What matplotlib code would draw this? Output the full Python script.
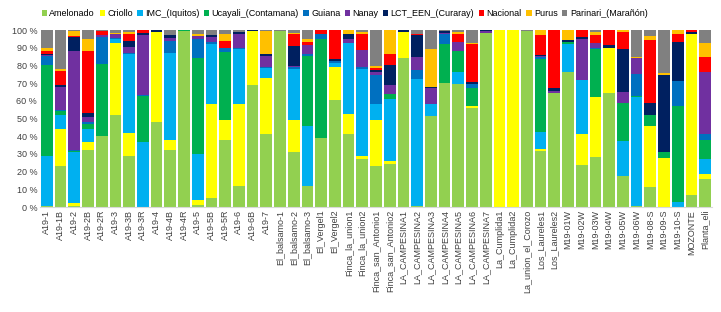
import matplotlib.pyplot as plt
import numpy as np

plt.rcParams['font.family'] = ['Liberation Sans', 'DejaVu Sans']

samples = ['A19-1', 'A19-1B', 'A19-2', 'A19-2B', 'A19-2R', 'A19-3', 'A19-3B', 'A19-3R',
           'A19-4', 'A19-4B', 'A19-4R', 'A19-5', 'A19-5B', 'A19-5R', 'A19-6', 'A19-6B',
           'A19-7', 'El_balsamo-1', 'El_balsamo-2', 'El_balsamo-3', 'El_Vergel1', 'El_Vergel2',
           'Finca_la_union1', 'Finca_la_union2', 'Finca_san_Antonio1', 'Finca_san_Antonio2',
           'LA_CAMPESINA1', 'LA_CAMPESINA2', 'LA_CAMPESINA3', 'LA_CAMPESINA4', 'LA_CAMPESINA5',
           'LA_CAMPESINA6', 'LA_CAMPESINA7', 'La_Cumplida1', 'La_Cumplida2', 'La_union_el_Corozo',
           'Los_Laureles1', 'Los_Laureles2', 'M19-01W', 'M19-02W', 'M19-03W', 'M19-04W',
           'M19-05W', 'M19-06W', 'M19-08-S', 'M19-09-S', 'M19-10-S', 'MOZONTE', 'Planta_eli']

groups = ['Amelonado', 'Criollo', 'IMC_(Iquitos)', 'Ucayali_(Contamana)', 'Guiana', 'Nanay',
          'LCT_EEN_(Curaray)', 'Nacional', 'Purus', 'Parinari_(Marañón)']
colors = ['#92D050', '#FFFF00', '#00B0F0', '#00B050', '#0070C0', '#7030A0',
          '#002060', '#FF0000', '#FFC000', '#808080']

# ancestry proportions (%) per sample, columns in the order of "groups"
amelonado = [0.5, 23, 0.5, 32, 40, 52, 29, 0, 48, 32, 99.5, 1, 5, 38, 12, 69, 41, 99.5, 31, 12,
             39, 60.5, 41, 27, 23, 24.5, 84, 0.5, 51.5, 70, 69.5, 56, 98.5, 0, 0, 99.5, 31.5, 64.5,
             76.5, 24, 28.5, 64.5, 17.5, 0.5, 11.5, 0, 0, 7, 16]
criollo = [0, 21, 2, 5, 0, 40.5, 13, 0, 51, 6, 0, 3, 53, 11, 46, 30.5, 32, 0, 18, 0, 0, 18.5,
           11.5, 2, 26, 1.5, 15, 0, 0, 0, 0, 1, 0, 100, 100, 0, 1, 0, 0, 17, 33.5, 25.5, 0, 0,
           34.5, 27.5, 0, 91, 2.5]
imc = [28.5, 8, 28.5, 7, 0, 2.5, 44.5, 37, 0, 49, 0, 26, 34, 0, 31.5, 0, 5.5, 0, 29, 34, 0, 2.5,
       40, 49, 9, 35, 0, 72, 6.5, 0, 7, 0, 0, 0, 0, 0, 10, 0, 15.5, 31, 0, 0, 20, 61.5, 0, 0, 3,
       0, 8.5]
ucayali = [51, 2, 0.5, 3, 41, 0, 0, 26, 0, 0, 0.5, 54, 0, 38.5, 0, 0, 0, 0, 0, 39.5, 56, 0, 0,
           0, 0, 3, 0, 0, 0, 22, 11.5, 10, 0, 0, 0, 0, 41, 0, 1.5, 0, 27.5, 0, 21, 0.5, 6, 3.5,
           54, 0, 11]
guiana = [5.5, 1, 0.5, 1, 15, 0.5, 0.5, 0.5, 0, 7, 0, 11, 1, 2.5, 0.5, 0, 0.5, 0, 1, 1, 2.5, 1,
          0, 1, 16.5, 0, 0, 5, 0, 6, 0, 2.5, 0, 0, 0, 0, 1, 0, 0, 0, 0.5, 0, 0, 12.5, 0, 0, 14,
          0, 3]
nanay = [0.5, 13, 56, 3, 1, 2.5, 3.5, 33.5, 0, 1.5, 0, 1.5, 3, 0, 8, 0, 6.5, 0, 0.5, 5, 0.5, 0,
         2.5, 9.5, 1.5, 5, 0, 7.5, 9.5, 0.5, 5, 0, 1, 0, 0, 0, 1, 1, 0, 23, 2.5, 0, 6.5, 9, 0, 0,
         0, 0, 35]
lct = [0.5, 1, 8, 2, 0, 0, 3.5, 1.5, 1, 1.5, 0, 0, 1, 0, 1, 0.5, 1, 0, 11.5, 0, 0, 1, 2.5, 0,
       1.5, 11, 1, 12, 0.5, 1, 0, 1, 0.5, 0, 0, 0, 0.5, 1.5, 1, 1, 0, 1.5, 24.5, 0, 6.5, 43.5,
       22, 1, 0]
nacional = [1.5, 8, 0.5, 35, 2.5, 0, 4, 1.5, 0, 0, 0, 0, 0, 4, 0, 0, 0, 0, 6.5, 2, 2, 16.5, 0, 9,
            1, 6.5, 0, 1, 0, 0, 5, 21.5, 0, 0, 0, 0, 11, 33, 0, 4, 4.5, 8.5, 9.5, 0, 36, 0, 5,
            1, 8.5]
purus = [2, 1, 3, 7, 0, 0.5, 1, 0, 0, 0, 0, 1.5, 0, 4, 0, 0, 13, 0, 1, 1.5, 0, 0, 2.5, 1.5, 1,
         13.5, 0, 0, 21.5, 0, 1, 0.5, 0, 0, 0, 0, 3, 0, 5.5, 0, 2, 0, 1, 0.5, 2, 1, 2, 0, 8]
parinari = [10, 22, 0.5, 5, 0.5, 1.5, 1, 0, 0, 3, 0, 2, 3, 2, 1, 0, 0.5, 0.5, 1.5, 5, 0, 0, 0,
            1, 20.5, 0, 0, 2, 10.5, 0.5, 1, 7.5, 0, 0, 0, 0.5, 0, 0, 0, 0, 1, 0, 0, 15.5, 3.5,
            24.5, 0, 0, 7.5]

data = np.array([amelonado, criollo, imc, ucayali, guiana, nanay, lct, nacional, purus, parinari],
                dtype=float)
data = data / data.sum(axis=0) * 100

fig = plt.figure(figsize=(7.21, 3.12), dpi=100)
ax = fig.add_axes([0.0555, 0.3365, 0.932, 0.5673])

x = np.arange(len(samples))
bottom = np.zeros(len(samples))
for vals, name, col in zip(data, groups, colors):
    ax.bar(x, vals, bottom=bottom, width=0.86, color=col, label=name, linewidth=0)
    bottom += vals

ax.set_xlim(-0.5, len(samples) - 0.5)
ax.set_ylim(0, 100)
ax.set_yticks(np.arange(0, 101, 10))
ax.set_yticklabels([f'{v} %' for v in range(0, 101, 10)], fontsize=6.5, color='#404040')
ax.set_xticks(x)
ax.set_xticklabels(samples, rotation=90, fontsize=6.5, color='#404040')
ax.tick_params(axis='both', length=0, pad=2)
for s in ['top', 'right', 'left']:
    ax.spines[s].set_visible(False)
ax.spines['bottom'].set_color('#d9d9d9')

fig.legend(loc='upper center', bbox_to_anchor=(0.478, 0.99), ncol=10, frameon=False,
           fontsize=6.5, handlelength=0.6, handleheight=0.6, handletextpad=0.25,
           columnspacing=0.5, borderaxespad=0.3)

plt.savefig('out.png', dpi=100)
